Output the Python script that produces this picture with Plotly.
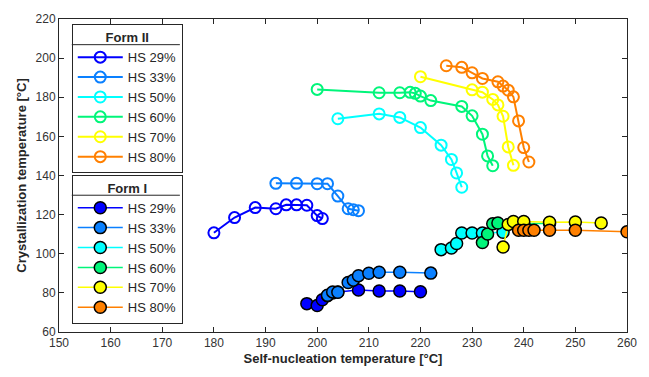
import plotly.graph_objects as go

# ---------- data ----------
labels = ["HS 29%", "HS 33%", "HS 50%", "HS 60%", "HS 70%", "HS 80%"]
colors = ["#0000FF", "#0A80FF", "#00FFFF", "#00F57A", "#FFFF00", "#FF8000"]

# Form II (open markers)
f2_x29 = [180, 184, 188, 192, 194, 196, 198, 200, 201]
f2_y29 = [110.7, 118.5, 123.6, 123.0, 125.0, 125.0, 124.8, 119.5, 118.0]
f2_x33 = [192, 196, 200, 202, 204, 206, 207, 208]
f2_y33 = [136.0, 136.0, 135.8, 135.8, 129.5, 123.0, 122.5, 122.0]
f2_x50 = [204, 212, 216, 220, 224, 226, 227, 228]
f2_y50 = [169.0, 171.5, 169.7, 164.5, 155.5, 148.2, 141.3, 134.0]
f2_x60 = [200, 212, 216, 218, 219, 220, 222, 228, 230, 232, 233, 234]
f2_y60 = [184.0, 182.3, 182.3, 182.5, 182.0, 180.6, 178.3, 175.3, 170.5, 161.1, 150.0, 145.0]
f2_x70 = [220, 230, 232, 234, 235, 236, 237, 238]
f2_y70 = [190.5, 183.8, 182.6, 178.9, 176.1, 170.3, 154.6, 145.2]
f2_x80 = [225, 228, 230, 232, 235, 236, 237, 238, 239, 240, 241]
f2_y80 = [196.1, 195.3, 192.5, 189.6, 187.9, 185.7, 183.6, 180.2, 167.9, 154.3, 146.9]

# Form I (filled markers)
f1_x29 = [198, 200, 201, 202, 203, 204, 208, 212, 216, 220]
f1_y29 = [74.5, 73.5, 76.5, 78.5, 80.0, 80.5, 81.5, 81.0, 81.0, 80.6]
f1_x33 = [202, 203, 204, 206, 207, 208, 210, 212, 216, 222]
f1_y33 = [78.8, 80.5, 80.3, 85.3, 86.5, 88.8, 90.0, 90.5, 90.5, 90.1]
f1_x50 = [224, 226, 227, 228, 230, 232, 236]
f1_y50 = [102.1, 102.9, 105.2, 110.6, 110.6, 110.6, 111.0]
f1_x60 = [232, 233, 234, 235, 240, 245]
f1_y60 = [105.7, 110.1, 115.3, 115.7, 115.5, 115.5]
f1_x70 = [236, 237, 238, 240, 245, 250, 255]
f1_y70 = [103.4, 115.0, 116.5, 116.5, 116.1, 116.2, 115.7]
f1_x80 = [239, 240, 241, 242, 245, 250, 260]
f1_y80 = [112.0, 112.0, 112.0, 112.0, 112.0, 112.0, 111.2]

form2 = [(f2_x29, f2_y29), (f2_x33, f2_y33), (f2_x50, f2_y50),
         (f2_x60, f2_y60), (f2_x70, f2_y70), (f2_x80, f2_y80)]
form1 = [(f1_x29, f1_y29), (f1_x33, f1_y33), (f1_x50, f1_y50),
         (f1_x60, f1_y60), (f1_x70, f1_y70), (f1_x80, f1_y80)]

FONT = "Arial, Liberation Sans, sans-serif"
fig = go.Figure()

for (x, y), lab, c in zip(form2, labels, colors):
    fig.add_trace(go.Scatter(
        x=x, y=y, name=lab, mode="lines+markers", legend="legend",
        line=dict(color=c, width=2),
        marker=dict(symbol="circle-open", size=11, color=c, line=dict(width=2, color=c)),
    ))

for (x, y), lab, c in zip(form1, labels, colors):
    fig.add_trace(go.Scatter(
        x=x, y=y, name=lab, mode="lines+markers", legend="legend2",
        line=dict(color=c, width=1.5),
        marker=dict(symbol="circle", size=12, color=c, line=dict(width=1.5, color="black")),
    ))

axis_common = dict(
    showgrid=False, zeroline=False, showline=True, linecolor="#262626", linewidth=1,
    mirror="ticks", ticks="inside", ticklen=5, tickcolor="#262626",
    tickfont=dict(family=FONT, size=12, color="#333333"),
)

leg_common = dict(
    xanchor="left", yanchor="top",
    bgcolor="rgba(0,0,0,0)", bordercolor="#262626", borderwidth=1,
    font=dict(family=FONT, size=13, color="#262626"),
    tracegroupgap=0, itemwidth=45,
)

# legend geometry (paper fractions of the plot area)
L_LEFT, L_RIGHT = 0.0225, 0.2128
L1_TOP, L2_TOP = 0.983, 0.502
SEP1, SEP2 = 0.918, 0.437

fig.update_layout(
    width=649, height=377,
    margin=dict(l=59, r=12, t=19, b=45),
    paper_bgcolor="white", plot_bgcolor="white",
    font=dict(family=FONT, color="#262626"),
    xaxis=dict(range=[150, 260], dtick=10, tick0=150,
               title=dict(text="<b>Self-nucleation temperature [°C]</b>",
                          font=dict(family=FONT, size=13, color="#262626"), standoff=4),
               **axis_common),
    yaxis=dict(range=[60, 220], dtick=20, tick0=60,
               title=dict(text="<b>Crystallization temperature [°C]</b>",
                          font=dict(family=FONT, size=13, color="#262626"), standoff=6),
               **axis_common),
    legend=dict(x=L_LEFT, y=L1_TOP,
                title=dict(text="<b>Form II</b>", side="top center",
                           font=dict(family=FONT, size=13, color="#262626")),
                **leg_common),
    legend2=dict(x=L_LEFT, y=L2_TOP,
                 title=dict(text="<b>Form I</b>", side="top center",
                            font=dict(family=FONT, size=13, color="#262626")),
                 **leg_common),
    showlegend=True,
    shapes=[
        dict(type="line", xref="paper", yref="paper", x0=L_LEFT, x1=L_RIGHT,
             y0=SEP1, y1=SEP1, line=dict(color="#262626", width=1), layer="above"),
        dict(type="line", xref="paper", yref="paper", x0=L_LEFT, x1=L_RIGHT,
             y0=SEP2, y1=SEP2, line=dict(color="#262626", width=1), layer="above"),
    ],
)

fig.write_html("out.html")
